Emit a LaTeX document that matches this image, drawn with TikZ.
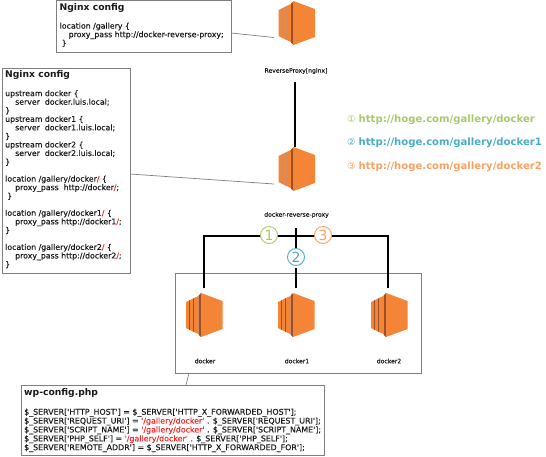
\documentclass[tikz,border=0pt]{standalone}
\usepackage{fontspec}
\setmainfont{DejaVu Sans}
\newfontfamily\codef[FakeBold=0.25]{DejaVu Sans}
\definecolor{awsl}{HTML}{F58536}
\definecolor{awsd}{HTML}{9D5025}
\definecolor{boxg}{HTML}{7F7F7F}
\definecolor{txtd}{HTML}{1A1A1A}
\definecolor{cg}{HTML}{A8C96A}
\definecolor{cb}{HTML}{4BACC6}
\definecolor{co}{HTML}{F9A263}
\definecolor{rd}{HTML}{F52A2A}
\newcommand{\rr}[1]{\textcolor{rd}{#1}}
\tikzset{
 boxn/.style={draw=boxg,line width=0.8pt,fill=white,anchor=north west,inner sep=0pt,outer sep=0pt},
 titlen/.style={anchor=north west,inner sep=0pt,font=\bfseries\fontsize{9.2}{12}\selectfont,text=txtd},
 coden/.style={anchor=north west,inner sep=0pt,align=left,text=txtd,font=\codef\fontsize{7.8}{8.55}\selectfont},
 lab/.style={inner sep=0pt,font=\codef\fontsize{6.1}{7}\selectfont,text=txtd},
 thin line/.style={draw=boxg,line width=0.7pt},
 thick line/.style={draw=black,line width=2pt},
 iconn/.style={minimum width=37pt,minimum height=44pt,inner sep=0pt,outer sep=0pt},
 numc/.style={circle,draw=#1,fill=white,line width=0.9pt,minimum size=17pt,inner sep=0pt,text=#1,font=\fontsize{14}{14}\selectfont},
 urln/.style={anchor=west,inner sep=0pt,text=#1,font=\fontsize{10.1}{12}\selectfont},
 pics/awsicon/.style={code={
   \fill[awsl] (0,-13) -- (3,-14.5) -- (3,14.5) -- (0,13) -- cycle;
   \fill[awsd] (3,-14.5) -- (4,-15) -- (4,15) -- (3,14.5) -- cycle;
   \fill[awsl] (4,-15) -- (7,-16.5) -- (7,16.5) -- (4,15) -- cycle;
   \fill[awsd] (7,-16.5) -- (8,-17) -- (8,17) -- (7,16.5) -- cycle;
   \fill[awsl] (8,-17) -- (12.5,-19) -- (12.5,19) -- (8,17) -- cycle;
   \fill[awsd] (12.5,-19.5) -- (15,-22) -- (15,22) -- (12.5,19.5) -- cycle;
   \fill[awsl] (15,-22) -- (36.5,-14) -- (36.5,14) -- (15,22) -- cycle;
 }}
}
\begin{document}
\begin{tikzpicture}[x=1pt,y=-1pt]
\useasboundingbox (0,0) rectangle (546,456);
% icons
\node[iconn] (rp) at (297,23) {};
\pic at (278.5,23) {awsicon};
\node[iconn] (rvp) at (297,169) {};
\pic at (278.5,169) {awsicon};
% group box
\node[boxn,minimum width=246pt,minimum height=100pt] (grp) at (175,273) {};
\node[iconn] (d0) at (204.5,315) {};
\pic at (186,315) {awsicon};
\node[iconn] (d1) at (296.5,315) {};
\pic at (278,315) {awsicon};
\node[iconn] (d2) at (389.5,315) {};
\pic at (371,315) {awsicon};
% config boxes
\node[boxn,minimum width=175pt,minimum height=52pt] (cfga) at (56,0.5) {};
\node[titlen] (cfgat) at (59.5,3) {Nginx config};
\node[coden] (cfgac) at (59.5,22.5) {location /gallery \{\\
\hspace*{9pt}proxy\_pass http://docker-reverse-proxy;\\
\hspace*{2pt}\}};
\node[boxn,minimum width=128pt,minimum height=205pt] (cfgb) at (2,68) {};
\node[titlen] (cfgbt) at (5,70) {Nginx config};
\node[coden] (cfgbc) at (5,90) {upstream docker \{\\
\hspace*{10pt}server\ \ docker.luis.local;\\
\}\\
upstream docker1 \{\\
\hspace*{10pt}server\ \ docker1.luis.local;\\
\}\\
upstream docker2 \{\\
\hspace*{10pt}server\ \ docker2.luis.local;\\
\}\\[8.5pt]
location /gallery/docker\rr{/} \{\\
\hspace*{10pt}proxy\_pass\ \ http://docker\rr{/};\\
\hspace*{2pt}\}\\[8.5pt]
location /gallery/docker1\rr{/} \{\\
\hspace*{10pt}proxy\_pass http://docker1\rr{/};\\
\}\\[8.5pt]
location /gallery/docker2\rr{/} \{\\
\hspace*{10pt}proxy\_pass http://docker2\rr{/};\\
\}};
\node[boxn,minimum width=303pt,minimum height=70pt] (cfgc) at (21,385) {};
\node[titlen] (cfgct) at (24,388) {wp-config.php};
\node[coden,font=\codef\fontsize{7.9}{7.55}\selectfont] (cfgcc) at (24,408.5) {\$\_SERVER['HTTP\_HOST'] = \$\_SERVER['HTTP\_X\_FORWARDED\_HOST'];\\
\$\_SERVER['REQUEST\_URI'] = \rr{'/gallery/docker'} . \$\_SERVER['REQUEST\_URI'];\\
\$\_SERVER['SCRIPT\_NAME'] = \rr{'/gallery/docker'} . \$\_SERVER['SCRIPT\_NAME'];\\
\$\_SERVER['PHP\_SELF'] = \rr{'/gallery/docker'} . \$\_SERVER['PHP\_SELF'];\\
\$\_SERVER['REMOTE\_ADDR'] = \$\_SERVER['HTTP\_X\_FORWARDED\_FOR'];};
% labels
\node[lab] (rpl) at (296,71) {ReverseProxy[nginx]};
\node[lab] (rvpl) at (296.5,215) {docker-reverse-proxy};
\node[lab] (d0l) at (205,361) {docker};
\node[lab] (d1l) at (297,361) {docker1};
\node[lab] (d2l) at (389,361) {docker2};
% connectors
\coordinate (rpa) at (274,37.5);
\coordinate (rvpa) at (274,184);
\coordinate (grpa) at (189,373);
\coordinate (cfgca) at (186,385);
\coordinate (cfgaa) at (231,33);
\coordinate (cfgba) at (130,174);
\draw[thin line] (cfgaa) -- (rpa);
\draw[thin line] (cfgba) -- (rvpa);
\draw[thin line] (cfgca) -- (grpa);
\coordinate (rpb) at (295,82);
\coordinate (rvpb) at (295,147);
\draw[thick line] (rpb) -- (rvpb);
\coordinate (midtop) at (296,228);
\coordinate (midbot) at (296,288);
\coordinate (leftbot) at (204,288);
\coordinate (rightbot) at (388,288);
\coordinate (jl) at (204,236);
\coordinate (jr) at (388,236);
\draw[thick line] (leftbot) -- (jl) -- (jr) -- (rightbot);
\draw[thick line] (midtop) -- (midbot);
% number circles
\node[numc=cg] (n1) at (269,235) {1};
\node[numc=cb] (n2) at (296,257) {2};
\node[numc=co] (n3) at (323,235) {3};
\fill[white] (285,266) rectangle (307,268);
% urls
\node[urln=cg] (u1) at (347,120) {{\fontsize{9.5}{10}\selectfont ①}\hspace{3pt}\textbf{http://hoge.com/gallery/docker}};
\node[urln=cb] (u2) at (347,143) {{\fontsize{9.5}{10}\selectfont ②}\hspace{3pt}\textbf{http://hoge.com/gallery/docker1}};
\node[urln=co] (u3) at (347,167) {{\fontsize{9.5}{10}\selectfont ③}\hspace{3pt}\textbf{http://hoge.com/gallery/docker2}};
\end{tikzpicture}
\end{document}
